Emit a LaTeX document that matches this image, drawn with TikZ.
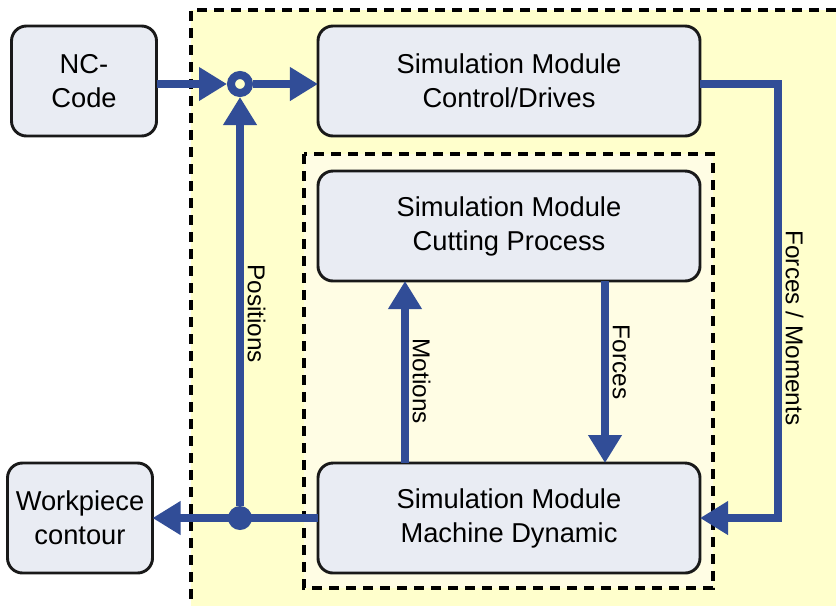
\documentclass[tikz,border=0pt]{standalone}
\usepackage{fontspec}
\setmainfont{Liberation Sans}
\usetikzlibrary{positioning, arrows.meta, calc}

\definecolor{flowblue}{RGB}{49,77,151}
\definecolor{boxfill}{RGB}{233,236,243}
\definecolor{simyellow}{RGB}{255,255,204}
\definecolor{coreyellow}{RGB}{255,253,228}

\begin{document}
\begin{tikzpicture}[x=0.03cm, y=-0.03cm,
    block/.style={draw=black!90, line width=2.5pt, rounded corners=0.45cm, fill=boxfill,
                  minimum height=3.3cm, inner sep=0pt, outer sep=0pt, align=center,
                  font=\fontsize{23.3}{29}\selectfont},
    module/.style={block, minimum width=11.46cm},
    io/.style={block, minimum width=4.35cm},
    arrow/.style={-{Triangle[length=0.84cm, width=0.96cm]}, line width=0.24cm, draw=flowblue},
    lbl/.style={rotate=-90, anchor=south, inner sep=3pt, font=\fontsize{20.8}{24}\selectfont},
    frame/.style={dash pattern=on 0.3cm off 0.21cm, line width=3.2pt}
]
\useasboundingbox (0,0) rectangle (836,606);

% simulation frames
\fill[simyellow] (191,10) rectangle (836,606);
\draw[frame] (836,10) -- (191,10) -- (191,606);
\filldraw[frame, fill=coreyellow] (304,154) rectangle (713,588);

% blocks
\node[io] (nc) at (84,81) {NC-\\Code};
\node[module] (ctrl) at (509,81) {Simulation Module\\Control/Drives};
\node[module, below=1.05cm of ctrl] (cut) {Simulation Module\\Cutting Process};
\node[module, below=5.46cm of cut] (dyn) {Simulation Module\\Machine Dynamic};
\node[io] (wp) at (80,518) {Workpiece\\contour};

% junctions
\node[circle, draw=flowblue, line width=0.24cm, minimum size=0.54cm, inner sep=0pt] (sum) at (240,84) {};
\node[circle, fill=flowblue, minimum size=0.72cm, inner sep=0pt] (split) at (dyn.west -| sum) {};
\coordinate (bend) at (778,328);

% signal flow
\draw[arrow] (nc.east |- sum) -- (sum);
\draw[arrow] (sum) -- (sum -| ctrl.west);
\draw[arrow] (dyn.west) -- (dyn.west -| wp.east);
\draw[arrow] (split) -- node[lbl, pos=0.47] {Positions} (sum);
\draw[arrow] (ctrl.east |- sum) -| (bend) node[lbl] {Forces / Moments} |- (dyn.east);
\draw[arrow] ($(dyn.north)+(-104,0)$) -- node[lbl, pos=0.45] {Motions} ($(cut.south)+(-104,0)$);
\draw[arrow] ($(cut.south)+(96,0)$) -- node[lbl, pos=0.445] {Forces} ($(dyn.north)+(96,0)$);
\end{tikzpicture}
\end{document}
